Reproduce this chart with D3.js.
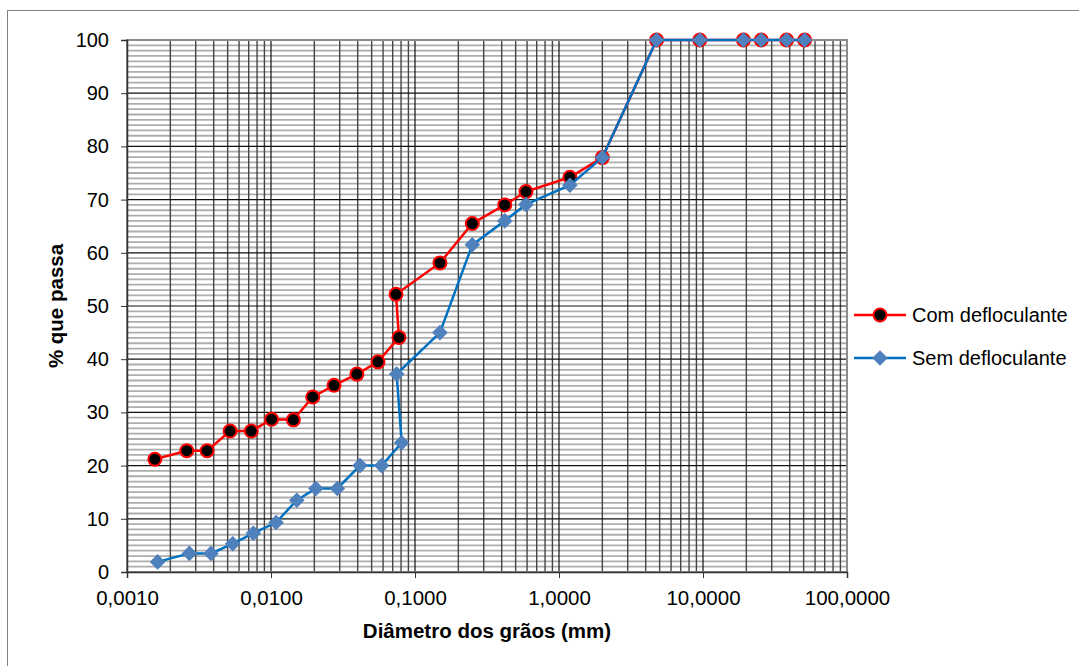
<!DOCTYPE html>
<html>
<head>
<meta charset="utf-8">
<script src="https://cdn.jsdelivr.net/npm/d3@7"></script>
<style>
  body { margin: 0; background: #fff; }
  svg { display: block; font-family: "Liberation Sans", Arial, sans-serif; }
</style>
</head>
<body>
<svg id="chart" width="1079" height="666"></svg>
<script>
// Com defloculante (diameter in mm, % passing)
var comDiam = [0.00156, 0.0026, 0.0036, 0.0052, 0.0073, 0.0101, 0.0143, 0.0195, 0.0274, 0.0395, 0.0553, 0.0774, 0.0738, 0.149, 0.25, 0.42, 0.59, 1.19, 2.0, 4.76, 9.5, 19.1, 25.4, 38.1, 50.8];
var comPass = [21.2, 22.8, 22.8, 26.5, 26.5, 28.7, 28.6, 32.9, 35.1, 37.2, 39.5, 44.1, 52.2, 58.1, 65.5, 69.0, 71.5, 74.2, 77.9, 100, 100, 100, 100, 100, 100];

// Sem defloculante
var semDiam = [0.00163, 0.00271, 0.00383, 0.00542, 0.00754, 0.01084, 0.0151, 0.0205, 0.0289, 0.0415, 0.0587, 0.0808, 0.0746, 0.149, 0.25, 0.42, 0.59, 1.19, 2.0, 4.76, 9.5, 19.1, 25.4, 38.1, 50.8];
var semPass = [1.9, 3.5, 3.5, 5.3, 7.3, 9.3, 13.5, 15.7, 15.7, 20.0, 20.0, 24.3, 37.2, 45.0, 61.5, 66.0, 69.1, 72.7, 77.9, 100, 100, 100, 100, 100, 100];

var xTicks = [0.001, 0.01, 0.1, 1, 10, 100];
var yTicks = [0, 10, 20, 30, 40, 50, 60, 70, 80, 90, 100];
var seriesNames = ["Com defloculante", "Sem defloculante"];

var svg = d3.select("#chart");

// plot area
var pL = 127, pR = 847, pT = 40, pB = 572;

var x = d3.scaleLog().domain([0.001, 100]).range([pL, pR]);
var y = d3.scaleLinear().domain([0, 100]).range([pB, pT]);

var ptBr = d3.formatLocale({decimal: ",", thousands: ".", grouping: [3], currency: ["", ""]});
var fmt = ptBr.format(".4f");

// outer chart border
svg.append("rect")
   .attr("x", 7.5).attr("y", 10.5)
   .attr("width", 1100).attr("height", 700)
   .attr("fill", "none")
   .attr("stroke", "#7f7f7f")
   .attr("stroke-width", 1);

var grid = svg.append("g");

// horizontal minor gridlines, every 1%
var yMinor = d3.range(1, 100).filter(function(v) { return v % 10 != 0; });
grid.selectAll("line.hmin")
    .data(yMinor)
    .enter().append("line")
    .attr("class", "hmin")
    .attr("x1", pL).attr("x2", pR)
    .attr("y1", function(d) { return y(d); })
    .attr("y2", function(d) { return y(d); })
    .attr("stroke", "#adadad")
    .attr("stroke-width", 1.8);

// vertical minor gridlines 2..9 of every decade
var xMinor = [];
for (var e = -3; e < 2; e++) {
    for (var k = 2; k <= 9; k++) xMinor.push(k * Math.pow(10, e));
}
grid.selectAll("line.vmin")
    .data(xMinor)
    .enter().append("line")
    .attr("class", "vmin")
    .attr("x1", function(d) { return x(d); })
    .attr("x2", function(d) { return x(d); })
    .attr("y1", pT).attr("y2", pB)
    .attr("stroke", "#444")
    .attr("stroke-width", 1.4);

// major gridlines
grid.selectAll("line.hmaj")
    .data(yTicks.slice(1, -1))
    .enter().append("line")
    .attr("class", "hmaj")
    .attr("x1", pL).attr("x2", pR)
    .attr("y1", function(d) { return y(d); })
    .attr("y2", function(d) { return y(d); })
    .attr("stroke", "#111")
    .attr("stroke-width", 1.2);

grid.selectAll("line.vmaj")
    .data(xTicks.slice(1, -1))
    .enter().append("line")
    .attr("class", "vmaj")
    .attr("x1", function(d) { return x(d); })
    .attr("x2", function(d) { return x(d); })
    .attr("y1", pT).attr("y2", pB)
    .attr("stroke", "#111")
    .attr("stroke-width", 1.2);

// plot area border (top / right)
svg.append("rect")
   .attr("x", pL).attr("y", pT)
   .attr("width", pR - pL).attr("height", pB - pT)
   .attr("fill", "none")
   .attr("stroke", "#8c8c8c")
   .attr("stroke-width", 2);

// axes
var yAxis = d3.axisLeft(y).tickValues(yTicks).tickSize(6).tickPadding(12).tickFormat(d3.format("d"));
var gy = svg.append("g").attr("transform", "translate(" + pL + ",0)").call(yAxis);
gy.select(".domain").attr("stroke", "#333").attr("stroke-width", 1.5);
gy.selectAll(".tick line").attr("stroke", "#333");
gy.selectAll("text").attr("font-size", 20).attr("fill", "#000")
  .attr("font-family", "Liberation Sans, Arial, sans-serif");

var xAxis = d3.axisBottom(x).tickValues(xTicks).tickSize(6).tickPadding(12).tickFormat(fmt);
var gx = svg.append("g").attr("transform", "translate(0," + pB + ")").call(xAxis);
gx.select(".domain").attr("stroke", "#333").attr("stroke-width", 1.5);
gx.selectAll(".tick line").attr("stroke", "#333");
gx.selectAll("text").attr("font-size", 20.5).attr("fill", "#000")
  .attr("font-family", "Liberation Sans, Arial, sans-serif");

// axis titles
svg.append("text")
   .attr("x", (pL + pR) / 2).attr("y", 638)
   .attr("text-anchor", "middle")
   .attr("font-size", 20.5).attr("font-weight", "bold")
   .text("Diâmetro dos grãos (mm)");

svg.append("text")
   .attr("transform", "translate(63," + ((pT + pB) / 2) + ") rotate(-90)")
   .attr("text-anchor", "middle")
   .attr("font-size", 20.5).attr("font-weight", "bold")
   .text("% que passa");

// series
var com = comDiam.map(function(d, i) { return [d, comPass[i]]; });
var sem = semDiam.map(function(d, i) { return [d, semPass[i]]; });

var line = d3.line()
    .x(function(d) { return x(d[0]); })
    .y(function(d) { return y(d[1]); });

var diamond = d3.symbol().type(d3.symbolSquare).size(100);

svg.append("path").datum(com)
   .attr("d", line).attr("fill", "none")
   .attr("stroke", "#ff0000").attr("stroke-width", 2.5);
svg.selectAll("circle.com").data(com)
   .enter().append("circle")
   .attr("class", "com")
   .attr("cx", function(d) { return x(d[0]); })
   .attr("cy", function(d) { return y(d[1]); })
   .attr("r", 6.5)
   .attr("fill", "#000")
   .attr("stroke", "#ff0000").attr("stroke-width", 2);

svg.append("path").datum(sem)
   .attr("d", line).attr("fill", "none")
   .attr("stroke", "#0070c0").attr("stroke-width", 2.5);
svg.selectAll("path.sem").data(sem)
   .enter().append("path")
   .attr("class", "sem")
   .attr("transform", function(d) { return "translate(" + x(d[0]) + "," + y(d[1]) + ") rotate(45)"; })
   .attr("d", diamond)
   .attr("fill", "#4f81bd")
   .attr("stroke", "#4f81bd").attr("stroke-width", 1);

// legend
var leg = svg.append("g");
var legY = [315, 358];

leg.append("line").attr("x1", 854).attr("x2", 906).attr("y1", legY[0]).attr("y2", legY[0])
   .attr("stroke", "#ff0000").attr("stroke-width", 2.5);
leg.append("circle").attr("cx", 880).attr("cy", legY[0]).attr("r", 6.5)
   .attr("fill", "#000").attr("stroke", "#ff0000").attr("stroke-width", 2);

leg.append("line").attr("x1", 854).attr("x2", 906).attr("y1", legY[1]).attr("y2", legY[1])
   .attr("stroke", "#0070c0").attr("stroke-width", 2.5);
leg.append("path").attr("transform", "translate(880," + legY[1] + ") rotate(45)")
   .attr("d", diamond).attr("fill", "#4f81bd").attr("stroke", "#4f81bd");

leg.selectAll("text").data(seriesNames)
   .enter().append("text")
   .attr("x", 912)
   .attr("y", function(d, i) { return legY[i]; })
   .attr("dy", "0.35em")
   .attr("font-size", 20)
   .text(function(d) { return d; });
</script>
</body>
</html>
